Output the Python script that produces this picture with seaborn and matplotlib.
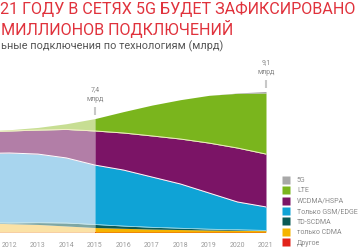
import numpy as np
import matplotlib
matplotlib.use("Agg")
import matplotlib.pyplot as plt
import seaborn as sns
from matplotlib.lines import Line2D

# данные (млрд подключений), снизу вверх
years = [2011, 2012, 2013, 2014, 2015, 2016, 2017, 2018, 2019, 2020, 2021]
other = [0.02, 0.02, 0.02, 0.02, 0.02, 0.02, 0.02, 0.02, 0.02, 0.02, 0.02]
cdma = [0.6, 0.55, 0.5, 0.4, 0.3, 0.25, 0.2, 0.17, 0.14, 0.12, 0.1]
tdscdma = [0.02, 0.05, 0.12, 0.2, 0.2, 0.15, 0.12, 0.09, 0.06, 0.04, 0.02]
gsm = [4.46, 4.51, 4.42, 4.19, 3.83, 3.61, 3.24, 2.85, 2.33, 1.79, 1.51]
wcdma = [1.4, 1.42, 1.55, 1.84, 2.2, 2.39, 2.65, 2.9, 3.22, 3.48, 3.41]
lte = [0.03, 0.08, 0.17, 0.37, 0.8, 1.38, 1.99, 2.54, 3.08, 3.53, 3.94]
g5 = [0, 0, 0, 0, 0, 0, 0, 0, 0, 0.02, 0.1]

labels = ["Другое", "только CDMA", "TD-SCDMA", "Только GSM/EDGE", "WCDMA/HSPA", "LTE", "5G"]
tick_years = [2012, 2013, 2014, 2015, 2016, 2017, 2018, 2019, 2020, 2021]
marks = {2015: "7,4\nмлрд", 2021: "9,1\nмлрд"}

sns.set_style("white")
plt.rcParams['font.family'] = ['Roboto', 'DejaVu Sans']

dark = sns.color_palette(["#e2231a", "#f5b400", "#0b5a55", "#0fa3d6", "#7b1466", "#7ab51d", "#a8a8a8"])
light = sns.color_palette(["#f1a49f", "#fbe2a6", "#7fa7a3", "#a8d5ee", "#b27ea7", "#c7de93", "#d0d0d0"])

series = [other, cdma, tdscdma, gsm, wcdma, lte, g5]
data = np.array(series)

fig = plt.figure(figsize=(3.59, 2.5), dpi=100)
ax = fig.add_axes([0, 0.07, 266 / 359, 0.62])

i15 = years.index(2015)
ax.stackplot(years[:i15 + 1], data[:, :i15 + 1], colors=light, linewidth=0)
polys = ax.stackplot(years[i15:], data[:, i15:], colors=dark, linewidth=0)

cum = np.cumsum(data, axis=0)
ax.plot(years, cum[3], color="white", lw=0.7)
ax.plot(years, cum[4], color="#f3eec8", lw=0.7)
ax.plot(years, cum[2], color="#d8efe9", lw=0.4)

for yr, txt in marks.items():
    top = cum[-1][years.index(yr)]
    ax.plot([yr, yr], [top + 0.25, top + 0.75], color="#c8c8c8", lw=1.5,
            solid_capstyle="butt", clip_on=False)
    ax.text(yr, top + 1.0, txt, ha="center", va="bottom", fontsize=5,
            color="#8a8a8a", linespacing=1.5, clip_on=False)

ax.set_xlim(2011.67, 2021)
ax.set_ylim(0, 10)
ax.set_xticks(tick_years)
ax.set_xticklabels([str(y) for y in tick_years])
ax.set_yticks([])
ax.tick_params(axis="x", length=0, pad=6.5, labelsize=5, labelcolor="#9a9a9a")
for s in ax.spines.values():
    s.set_visible(False)

handles = [Line2D([], [], marker="s", linestyle="", markersize=5.5,
                  markerfacecolor=p.get_facecolor(), markeredgecolor="none")
           for p in polys][::-1]
fig.legend(handles, labels[::-1], loc="upper left", bbox_to_anchor=(283 / 359, 1 - 177 / 250),
           frameon=False, fontsize=5, labelcolor="#8a8a8a", handlelength=0.8,
           handletextpad=1.2, labelspacing=0.5, borderpad=0, borderaxespad=0)

red = "#e0323c"
fig.text(0, 1 - 2 / 250, "21 ГОДУ В СЕТЯХ 5G БУДЕТ ЗАФИКСИРОВАНО", ha="left", va="top",
         fontsize=11.6, color=red)
fig.text(1 / 359, 1 - 20 / 250, "МИЛЛИОНОВ ПОДКЛЮЧЕНИЙ", ha="left", va="top",
         fontsize=11.6, color=red)
fig.text(1 / 359, 1 - 40 / 250, "ьные подключения по технологиям (млрд)", ha="left", va="top",
         fontsize=7.8, color="#555555")

fig.savefig("out.png", dpi=100)
